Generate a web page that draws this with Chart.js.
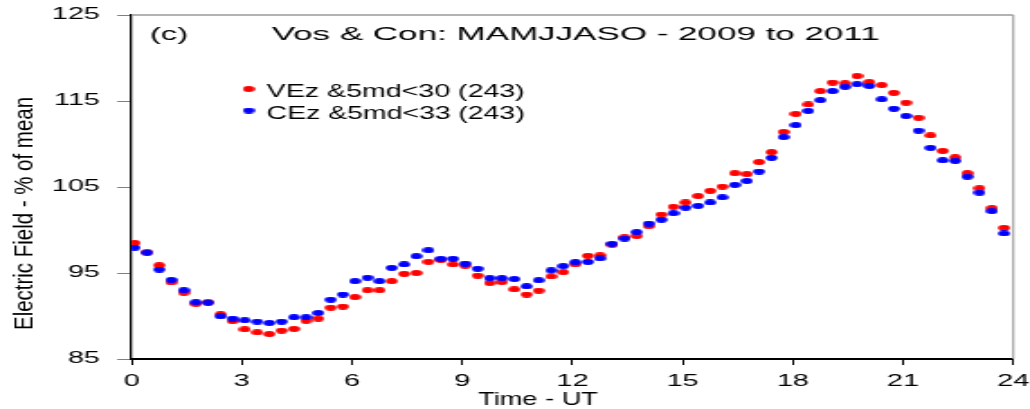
<!DOCTYPE html>
<html><head><meta charset="utf-8">
<script src="https://cdn.jsdelivr.net/npm/chart.js@4.4.0/dist/chart.umd.min.js"></script>
<style>html,body{margin:0;padding:0;background:#fff;overflow:hidden}</style>
</head><body>
<canvas id="c" width="572" height="409" style="display:block;width:1030px;height:409px"></canvas>
<script>
const times = [0.08,0.42,0.75,1.08,1.42,1.75,2.08,2.42,2.75,3.08,3.42,3.75,4.08,4.42,4.75,5.08,5.42,5.75,
  6.08,6.42,6.75,7.08,7.42,7.75,8.08,8.42,8.75,9.08,9.42,9.75,10.08,10.42,10.75,11.08,11.42,11.75,
  12.08,12.42,12.75,13.08,13.42,13.75,14.08,14.42,14.75,15.08,15.42,15.75,16.08,16.42,16.75,17.08,17.42,17.75,
  18.08,18.42,18.75,19.08,19.42,19.75,20.08,20.42,20.75,21.08,21.42,21.75,22.08,22.42,22.75,23.08,23.42,23.75];
const vezValues = [98.5,97.4,95.9,93.9,92.7,91.4,91.6,90.2,89.4,88.45,88.1,87.9,88.3,88.5,89.45,89.7,90.97,91.1,
  92.2,93.0,93.0,94.05,94.9,95.0,96.3,96.5,96.0,95.85,94.7,93.85,93.95,93.1,92.5,92.95,94.6,95.1,
  96.0,97.0,97.05,98.3,99.15,99.3,100.45,101.8,102.7,103.2,103.95,104.55,105.05,106.6,106.5,107.9,109.05,111.4,
  113.5,114.6,116.15,117.15,117.05,117.9,117.2,116.85,115.95,114.8,113.05,111.0,109.2,108.45,106.6,104.85,102.55,100.25];
const cezValues = [97.95,97.37,95.4,94.2,93.0,91.6,91.55,89.96,89.7,89.5,89.35,89.2,89.35,89.85,89.85,90.35,91.9,92.5,
  94.05,94.45,94.05,95.6,96.0,96.95,97.65,96.65,96.65,96.1,95.5,94.4,94.4,94.3,93.45,94.15,95.3,95.8,
  96.25,96.3,96.7,98.4,99.0,99.75,100.75,101.2,101.95,102.6,102.8,103.2,103.8,105.25,105.7,106.8,108.4,110.8,
  112.2,113.85,115.1,116.15,116.65,116.95,116.75,115.2,114.1,113.25,111.55,109.55,108.1,108.05,106.2,104.35,102.2,99.6];
const xTicks = [0,3,6,9,12,15,18,21,24];
const yTicks = [85,95,105,115,125];
const seriesLabels = ['VEz &5md<30 (243)', 'CEz &5md<33 (243)'];
const seriesColors = ['#ff0000', '#0000ff'];
const panelLabel = '(c)';
const titleText = 'Vos & Con: MAMJJASO - 2009 to 2011';
const xTitle = 'Time - UT';
const yTitle = 'Electric Field - % of mean';

const SX = 1030 / 572;
const FONT = '"Liberation Sans", Arial, sans-serif';

function ellipseImg(color) {
  const c = document.createElement('canvas');
  c.width = 7; c.height = 6;
  const g = c.getContext('2d');
  g.fillStyle = color;
  g.beginPath(); g.ellipse(3.5, 3, 3.3, 2.9, 0, 0, Math.PI * 2); g.fill();
  return c;
}
const redDot = ellipseImg(seriesColors[0]);
const blueDot = ellipseImg(seriesColors[1]);

function fitText(ctx, text, x, y, size, targetW) {
  ctx.save();
  ctx.font = size + 'px ' + FONT;
  const w = ctx.measureText(text).width;
  ctx.translate(x, y);
  ctx.scale(targetW / w, 1);
  ctx.textAlign = 'left';
  ctx.textBaseline = 'alphabetic';
  ctx.fillStyle = '#000';
  ctx.fillText(text, 0, 0);
  ctx.restore();
}

const decor = {
  id: 'decor',
  afterDraw(chart) {
    const ctx = chart.ctx, a = chart.chartArea;
    ctx.save();
    ctx.strokeStyle = '#9a9a9a';
    ctx.lineWidth = 1.5;
    ctx.beginPath(); ctx.moveTo(a.left, a.top); ctx.lineTo(a.right, a.top); ctx.stroke();
    ctx.lineWidth = 1.1;
    ctx.beginPath(); ctx.moveTo(a.right, a.top); ctx.lineTo(a.right, a.bottom); ctx.stroke();
    ctx.restore();

    fitText(ctx, panelLabel, 150 / SX, 40, 18.6, 38 / SX);
    fitText(ctx, titleText, 271.7 / SX, 40, 18.6, 608 / SX);

    ctx.drawImage(redDot, 248.7 / SX - 3.5, 89 - 3);
    ctx.drawImage(blueDot, 248.7 / SX - 3.5, 110.5 - 3);
    fitText(ctx, seriesLabels[0], 266.7 / SX, 97.3, 18.6, 258 / SX);
    fitText(ctx, seriesLabels[1], 266.7 / SX, 118.8, 18.6, 258 / SX);

    ctx.save();
    ctx.font = '19px ' + FONT;
    let w = ctx.measureText(xTitle).width;
    ctx.translate(538 / SX, 405);
    ctx.scale((120 / SX) / w, 1);
    ctx.textAlign = 'center'; ctx.fillStyle = '#000';
    ctx.fillText(xTitle, 0, 0);
    ctx.restore();

    ctx.save();
    ctx.font = '15.5px ' + FONT;
    w = ctx.measureText(yTitle).width;
    ctx.translate(33 / SX, 213.5);
    ctx.rotate(-Math.PI / 2);
    ctx.scale(233 / w, 1);
    ctx.textAlign = 'center'; ctx.fillStyle = '#000';
    ctx.fillText(yTitle, 0, 0);
    ctx.restore();
  }
};

new Chart(document.getElementById('c'), {
  type: 'scatter',
  data: {
    datasets: [
      { label: seriesLabels[0], data: times.map((t, i) => ({ x: t, y: vezValues[i] })),
        pointStyle: redDot, backgroundColor: seriesColors[0], borderColor: seriesColors[0], order: 1 },
      { label: seriesLabels[1], data: times.map((t, i) => ({ x: t, y: cezValues[i] })),
        pointStyle: blueDot, backgroundColor: seriesColors[1], borderColor: seriesColors[1], order: 0 }
    ]
  },
  options: {
    responsive: false,
    devicePixelRatio: 1,
    animation: false,
    events: [],
    layout: { padding: { left: 0, right: 9.3, top: 15, bottom: 0 } },
    plugins: { legend: { display: false }, tooltip: { enabled: false }, title: { display: false } },
    scales: {
      x: {
        type: 'linear', min: 0, max: 24,
        afterBuildTicks: s => { s.ticks = xTicks.map(v => ({ value: v })); },
        afterFit: s => { s.height = 50; s.paddingLeft = 0; s.paddingRight = 0; },
        grid: { drawOnChartArea: false, drawTicks: true, tickLength: 6, color: '#000', lineWidth: 1 },
        border: { display: true, color: '#000', width: 2 },
        ticks: { font: { family: FONT, size: 16 }, color: '#000', padding: 7, maxRotation: 0, autoSkip: false }
      },
      y: {
        type: 'linear', min: 85, max: 125,
        afterBuildTicks: s => { s.ticks = yTicks.map(v => ({ value: v })); },
        afterFit: s => { s.width = 73.1; s.paddingTop = 0; s.paddingBottom = 0; },
        grid: { drawOnChartArea: false, drawTicks: true, tickLength: 8, color: '#808080', lineWidth: 1 },
        border: { display: true, color: '#000', width: 1.3 },
        ticks: { font: { family: FONT, size: 16 }, color: '#000', padding: 9.6 }
      }
    }
  },
  plugins: [decor]
});
</script>
</body></html>
